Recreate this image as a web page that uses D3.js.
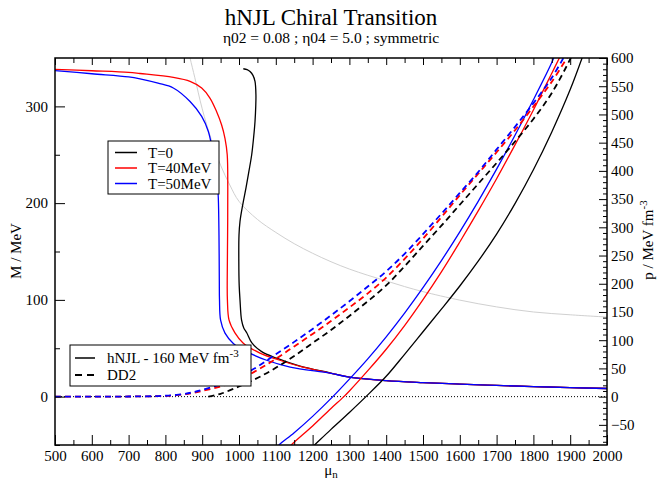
<!DOCTYPE html>
<html>
<head>
<meta charset="utf-8">
<script src="https://cdn.jsdelivr.net/npm/d3@7"></script>
<style>
  body { margin: 0; background: #fff; }
  .axis path { display: none; }
  .axis line { stroke: #000; stroke-width: 1; }
</style>
</head>
<body>
<div class="Canvas"></div>
<script>
// tick labels
const muTicks = [500, 600, 700, 800, 900, 1000, 1100, 1200, 1300, 1400, 1500, 1600, 1700, 1800, 1900, 2000];
const massTicks = [0, 100, 200, 300];
const pressTicks = [-50, 0, 50, 100, 150, 200, 250, 300, 350, 400, 450, 500, 550, 600];

// effective mass M(mu_n), [mu, M]
const massTail = [[1300, 20.2], [1400, 16.6], [1500, 14.5], [1600, 12.9], [1700, 11.6], [1800, 10.4], [1900, 9.3], [2000, 8.4]];
const massT0 = [[1011.7, 338.9], [1022, 338], [1030, 336], [1038, 332], [1043.5, 325.8], [1046, 312], [1045.5, 300],
  [1043.5, 284.4], [1039.5, 267], [1034.5, 250], [1027, 233], [1019, 215.8], [1010, 198], [1002.7, 181], [1000, 167],
  [999.5, 140], [1000.5, 115], [1002.7, 100], [1007, 79], [1013, 71], [1021, 66], [1035, 55.5], [1061.6, 46.5],
  [1102, 39.7], [1165.8, 31.5], [1247, 24.6]];
const massT40 = [[500, 338.2], [600, 336.8], [700, 335.2], [731, 334], [821.5, 329.9], [867, 325.8], [898.6, 318.9],
  [921, 308.6], [939, 294.7], [952.6, 281], [961.9, 267], [968, 250], [969.5, 215.8], [969, 167], [968, 120], [968.5, 100],
  [973, 79], [989, 65.9], [1011, 55.5], [1057, 45], [1111, 37.6], [1174, 30.4], [1247, 24.4]];
const massT50 = [[500, 337], [600, 333.7], [700, 330.5], [731, 328.5], [780, 324], [821.5, 319], [867, 305],
  [898.6, 289.6], [916.7, 274], [930, 250], [941, 222], [943.8, 205], [945.6, 167], [946.5, 120], [947, 100],
  [950, 79], [962, 65.6], [984.6, 55], [1021, 46.5], [1075, 37.6], [1139, 30.6], [1247, 24.2]];

// pressure p(mu_n), hNJL (solid)
const pressT0 = [[1190, -95], [1200, -89], [1250, -58], [1300, -28], [1345, 0], [1400, 36], [1450, 75], [1500, 115],
  [1550, 155], [1600, 196], [1650, 240], [1700, 288], [1750, 342], [1800, 402], [1850, 469], [1900, 544], [1935, 605]];
const pressT40 = [[1130, -95], [1140, -87], [1200, -52], [1250, -21], [1285, 0], [1300, 10], [1350, 46], [1400, 84],
  [1450, 126], [1500, 172], [1550, 221], [1600, 274], [1650, 329], [1700, 386], [1750, 446], [1800, 508], [1850, 573],
  [1875, 606]];
const pressT50 = [[1095, -95], [1108, -86], [1150, -64], [1200, -35], [1255, 0], [1300, 31], [1350, 67], [1400, 106],
  [1450, 148], [1500, 193], [1550, 241], [1600, 292], [1650, 346], [1700, 403], [1750, 463], [1800, 526], [1850, 592],
  [1858, 605]];

// pressure p(mu_n), DD2 (dashed)
const dd2T0 = [[917, 0], [950, 5], [1000, 18], [1050, 33], [1100, 51], [1150, 72], [1200, 95], [1250, 118], [1300, 143],
  [1350, 169], [1400, 197], [1450, 231], [1500, 267], [1550, 303], [1600, 340], [1650, 377], [1700, 414], [1750, 452],
  [1800, 492], [1850, 538], [1900, 598], [1904, 604]];
const dd2T40 = [[500, 0], [600, 0], [700, 0.2], [780, 0.8], [830, 2.5], [870, 6], [900, 10], [950, 18], [1000, 30],
  [1050, 47], [1100, 67], [1150, 89], [1200, 111], [1250, 134], [1300, 158], [1350, 183], [1400, 211], [1450, 244],
  [1500, 280], [1550, 318], [1600, 357], [1650, 395], [1700, 433], [1750, 472], [1800, 514], [1850, 558], [1895, 604]];
const dd2T50 = [[500, 0], [600, 0], [700, 0.2], [780, 1], [830, 3], [870, 7], [900, 12], [950, 22], [1000, 35],
  [1050, 53], [1100, 75], [1150, 97], [1200, 120], [1250, 144], [1300, 169], [1350, 195], [1400, 222], [1450, 253],
  [1500, 288], [1550, 324], [1600, 361], [1650, 398], [1700, 438], [1750, 478], [1800, 520], [1850, 565], [1885, 604]];

// light grey guide curve (right axis)
const greyCurve = [[860, 620], [867, 600], [880, 565], [900, 510], [925, 455], [950, 410], [975, 375], [1000, 346],
  [1050, 314], [1100, 291], [1150, 271], [1200, 254], [1250, 239], [1300, 226], [1350, 215], [1400, 205], [1450, 195],
  [1500, 186], [1600, 171], [1700, 159], [1800, 150], [1900, 145], [2000, 141]];

const tempLabels = ['T=0', 'T=40MeV', 'T=50MeV'];
const tempColors = ['#000000', '#ff0000', '#0000ff'];

const FONT = "'Liberation Serif', 'Times New Roman', Times, 'DejaVu Serif', serif";
const W = 659, H = 479;
const plotLeft = 55, plotRight = 607, plotTop = 58, plotBottom = 445;

const x = d3.scaleLinear().domain([500, 2000]).range([plotLeft, plotRight]);
const yM = d3.scaleLinear().domain([-50, 350]).range([plotBottom, plotTop]);
const yP = d3.scaleLinear().domain([-600 / 7, 600]).range([plotBottom, plotTop]);

const svg = d3.select('.Canvas').append('svg').attr('width', W).attr('height', H)
  .attr('font-family', FONT);

svg.append('defs').append('clipPath').attr('id', 'plotClip')
  .append('rect').attr('x', plotLeft).attr('y', plotTop)
  .attr('width', plotRight - plotLeft).attr('height', plotBottom - plotTop);

const plot = svg.append('g').attr('clip-path', 'url(#plotClip)');

const lineM = d3.line().x((d) => x(d[0])).y((d) => yM(d[1])).curve(d3.curveCatmullRom.alpha(0.5));
const lineP = d3.line().x((d) => x(d[0])).y((d) => yP(d[1])).curve(d3.curveCatmullRom.alpha(0.5));

plot.append('path').datum(greyCurve).attr('d', lineP)
  .attr('fill', 'none').attr('stroke', '#d0d0d0').attr('stroke-width', 1);

plot.append('line').attr('x1', plotLeft).attr('x2', plotRight).attr('y1', yM(0)).attr('y2', yM(0))
  .attr('stroke', '#000').attr('stroke-width', 1).attr('stroke-dasharray', '1,2');

const massSets = [massT0.concat(massTail), massT40.concat(massTail), massT50.concat(massTail)];
const pressSets = [pressT0, pressT40, pressT50];
const dd2Sets = [dd2T0, dd2T40, dd2T50];

for (let i = 0; i < 3; i++) {
  plot.append('path').datum(massSets[i]).attr('d', lineM)
    .attr('fill', 'none').attr('stroke', tempColors[i]).attr('stroke-width', 1.3);
}
for (let i = 0; i < 3; i++) {
  plot.append('path').datum(pressSets[i]).attr('d', lineP)
    .attr('fill', 'none').attr('stroke', tempColors[i]).attr('stroke-width', 1.3);
}
for (let i = 0; i < 3; i++) {
  plot.append('path').datum(dd2Sets[i]).attr('d', lineP)
    .attr('fill', 'none').attr('stroke', tempColors[i]).attr('stroke-width', 1.8)
    .attr('stroke-dasharray', '6,4');
}

// axes, ticks pointing inwards
const fmt = d3.format('d');
const styleAxis = (g) => g.attr('class', 'axis').attr('font-family', FONT).attr('font-size', 15);
const minorMu = d3.range(550, 2000, 100);
svg.append('g').attr('transform', `translate(0,${plotBottom})`).call(styleAxis)
  .call(d3.axisBottom(x).tickValues(muTicks).tickFormat(fmt).tickSizeInner(-10).tickSizeOuter(0).tickPadding(5))
  .call(styleAxis);
svg.append('g').attr('transform', `translate(0,${plotBottom})`)
  .call(d3.axisBottom(x).tickValues(minorMu).tickSizeInner(-5).tickSizeOuter(0).tickFormat(''))
  .call(styleAxis);
svg.append('g').attr('transform', `translate(0,${plotTop})`)
  .call(d3.axisTop(x).tickValues(muTicks).tickSizeInner(-7).tickSizeOuter(0).tickFormat(''))
  .call(styleAxis);
svg.append('g').attr('transform', `translate(0,${plotTop})`)
  .call(d3.axisTop(x).tickValues(minorMu).tickSizeInner(-5).tickSizeOuter(0).tickFormat(''))
  .call(styleAxis);

svg.append('g').attr('transform', `translate(${plotLeft},0)`)
  .call(d3.axisLeft(yM).tickValues(massTicks).tickFormat(fmt).tickSizeInner(-10).tickSizeOuter(0).tickPadding(7))
  .call(styleAxis);
svg.append('g').attr('transform', `translate(${plotLeft},0)`)
  .call(d3.axisLeft(yM).tickValues([-50, 50, 150, 250]).tickSizeInner(-5).tickSizeOuter(0).tickFormat(''))
  .call(styleAxis);

svg.append('g').attr('transform', `translate(${plotRight},0)`)
  .call(d3.axisRight(yP).tickValues(pressTicks).tickFormat(fmt).tickSizeInner(-8).tickSizeOuter(0).tickPadding(4))
  .call(styleAxis);
svg.append('g').attr('transform', `translate(${plotRight},0)`)
  .call(d3.axisRight(yP).tickValues(d3.range(-80, 600, 10).filter((v) => v % 50 !== 0))
    .tickSizeInner(-4).tickSizeOuter(0).tickFormat(''))
  .call(styleAxis);

svg.append('rect').attr('x', plotLeft).attr('y', plotTop)
  .attr('width', plotRight - plotLeft).attr('height', plotBottom - plotTop)
  .attr('fill', 'none').attr('stroke', '#000').attr('stroke-width', 1.5);

// titles
svg.append('text').attr('x', 331).attr('y', 25).attr('text-anchor', 'middle')
  .attr('font-size', '23px').text('hNJL Chiral Transition');
svg.append('text').attr('x', 331).attr('y', 43).attr('text-anchor', 'middle')
  .attr('font-size', '15.5px').text('η02 = 0.08 ; η04 = 5.0 ; symmetric');

const xl = svg.append('text').attr('x', 331).attr('y', 475).attr('text-anchor', 'middle').attr('font-size', '15px');
xl.append('tspan').text('μ');
xl.append('tspan').attr('font-size', '11px').attr('dy', 3).text('n');

svg.append('text').attr('transform', 'translate(21,251) rotate(-90)').attr('text-anchor', 'middle')
  .attr('font-size', '15px').text('M / MeV');
const yl = svg.append('text').attr('transform', 'translate(653,240) rotate(-90)').attr('text-anchor', 'middle')
  .attr('font-size', '15px');
yl.append('tspan').text('p / MeV fm');
yl.append('tspan').attr('font-size', '11px').attr('dy', -6).text('-3');

// legend: temperatures
const leg1 = svg.append('g');
leg1.append('rect').attr('x', 108).attr('y', 141).attr('width', 111).attr('height', 53)
  .attr('fill', '#fff').attr('stroke', '#000').attr('stroke-width', 1);
tempLabels.forEach((t, i) => {
  const yy = 152.5 + i * 15.5;
  leg1.append('line').attr('x1', 115).attr('x2', 137).attr('y1', yy).attr('y2', yy)
    .attr('stroke', tempColors[i]).attr('stroke-width', 1.5);
  leg1.append('text').attr('x', 148).attr('y', yy + 5).attr('font-size', '15px').text(t);
});

// legend: models
const leg2 = svg.append('g');
leg2.append('rect').attr('x', 70).attr('y', 345).attr('width', 181).attr('height', 41)
  .attr('fill', '#fff').attr('stroke', '#000').attr('stroke-width', 1);
leg2.append('line').attr('x1', 75).attr('x2', 95).attr('y1', 358).attr('y2', 358)
  .attr('stroke', '#000').attr('stroke-width', 1.5);
leg2.append('line').attr('x1', 75).attr('x2', 97).attr('y1', 375).attr('y2', 375)
  .attr('stroke', '#000').attr('stroke-width', 1.8).attr('stroke-dasharray', '7,5');
const t1 = leg2.append('text').attr('x', 107).attr('y', 363).attr('font-size', '15px');
t1.append('tspan').text('hNJL - 160 MeV fm');
t1.append('tspan').attr('font-size', '11px').attr('dy', -6).text('-3');
leg2.append('text').attr('x', 107).attr('y', 380).attr('font-size', '15px').text('DD2');
</script>
</body>
</html>
